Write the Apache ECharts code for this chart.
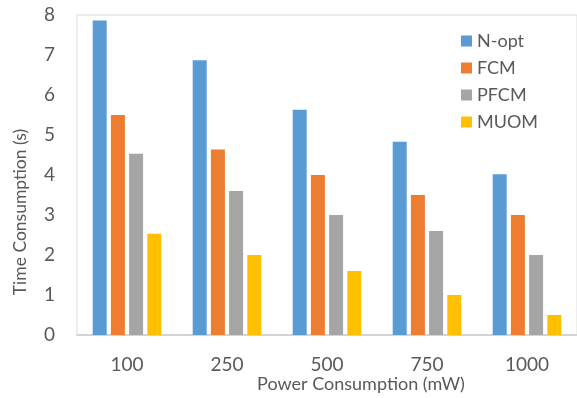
<!DOCTYPE html>
<html>
<head>
<meta charset="utf-8">
<script src="https://cdn.jsdelivr.net/npm/echarts@6/dist/echarts.min.js"></script>
<style>
  html, body { margin: 0; padding: 0; background: #fff; }
  #chart { width: 577px; height: 398px; }
</style>
</head>
<body>
<div id="chart"></div>
<script>
// Power levels (mW) on the x axis
const categories = ['100', '250', '500', '750', '1000'];

// Time consumption (s) per method
const nOpt = [7.86, 6.87, 5.63, 4.83, 4.02];
const fcm  = [5.5, 4.64, 4.0, 3.5, 3.0];
const pfcm = [4.53, 3.6, 3.0, 2.6, 2.0];
const muom = [2.53, 2.0, 1.6, 1.0, 0.5];

const seriesNames = ['N-opt', 'FCM', 'PFCM', 'MUOM'];
const seriesData = [nOpt, fcm, pfcm, muom];
const colors = ['#5B9BD5', '#ED7D31', '#A5A5A5', '#FFC000'];

const FONT = 'Lato, "Open Sans", sans-serif';
const TEXT = '#595959';

const chart = echarts.init(document.getElementById('chart'));

chart.setOption({
  animation: false,
  color: colors,
  textStyle: { fontFamily: FONT },
  grid: {
    left: 77, top: 15, width: 512, height: 320,
    show: true, borderColor: '#dcdcdc', borderWidth: 1
  },
  legend: {
    orient: 'vertical',
    left: 456, top: 27,
    itemWidth: 11, itemHeight: 11, itemGap: 9,
    icon: 'rect',
    textStyle: { fontFamily: FONT, fontSize: 18, color: TEXT },
    data: seriesNames
  },
  xAxis: {
    type: 'category',
    data: categories,
    axisTick: { show: false },
    axisLine: { lineStyle: { color: '#d4d4d4', width: 2 } },
    axisLabel: { margin: 20, fontSize: 19, color: TEXT, fontFamily: FONT }
  },
  yAxis: {
    type: 'value',
    min: 0, max: 8, interval: 1,
    splitLine: { show: false },
    axisLine: { show: false },
    axisTick: { show: false },
    axisLabel: { margin: 22, fontSize: 19, color: TEXT, fontFamily: FONT }
  },
  graphic: [
    {
      type: 'text', x: 20, y: 212, rotation: Math.PI / 2,
      style: {
        text: 'Time Consumption (s)', fontSize: 17.5, fontFamily: FONT,
        fill: TEXT, align: 'center', verticalAlign: 'middle'
      }
    },
    {
      type: 'text', x: 361, y: 384,
      style: {
        text: 'Power Consumption (mW)', fontSize: 18, fontFamily: FONT,
        fill: TEXT, align: 'center', verticalAlign: 'middle'
      }
    }
  ],
  series: seriesNames.map((name, i) => ({
    name,
    type: 'bar',
    data: seriesData[i],
    barWidth: 14,
    barGap: '30%'
  }))
});
</script>
</body>
</html>
